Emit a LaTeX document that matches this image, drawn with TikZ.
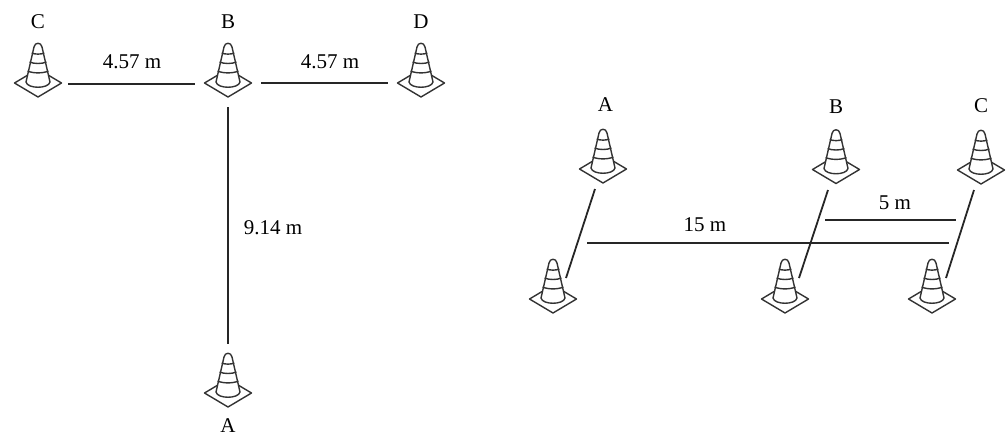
\documentclass[tikz,border=0pt]{standalone}
\usepackage{fontspec}
\setmainfont{Liberation Serif}
\usepackage{tikz}

\tikzset{
  lbl/.style={inner sep=0pt,font=\fontsize{21}{23}\selectfont},
  gapline/.style={line width=1.8pt,draw=black!85},
  cone/.pic={
    \draw[line width=1.4pt,draw=black!80,line join=round]
      (-23.5,0) -- (0,14) -- (23.5,0) -- (0,-14) -- cycle;
    \draw[line width=1.4pt,draw=black!80,fill=white,line join=round]
      (-12,-1) -- (-4,-36)
      .. controls (-3.2,-41) and (3.2,-41) .. (4,-36)
      -- (12,-1)
      .. controls (10.5,6) and (-10.5,6) .. (-12,-1) -- cycle;
    \draw[line width=1.4pt,draw=black!80]
      (-6.3,-30) .. controls (-3,-28.5) and (3,-28.5) .. (6.3,-30);
    \draw[line width=1.4pt,draw=black!80]
      (-8.4,-21) .. controls (-4,-19) and (4,-19) .. (8.4,-21);
    \draw[line width=1.4pt,draw=black!80]
      (-10.4,-12) .. controls (-5,-9.5) and (5,-9.5) .. (10.4,-12);
  }
}

\begin{document}
\begin{tikzpicture}[x=1pt,y=-1pt]
\useasboundingbox (0,0) rectangle (1006,437);
% left layout
\pic at (38,83) {cone};
\pic at (228,83) {cone};
\pic at (421,83) {cone};
\pic at (228,393) {cone};
\node[lbl] (lblC) at (38,22) {C};
\node[lbl] (lblB) at (228,22) {B};
\node[lbl] (lblD) at (421,22) {D};
\node[lbl] (lblA) at (228,426) {A};
\coordinate (c1) at (68,84);
\coordinate (c2) at (195,84);
\coordinate (c3) at (261,83);
\coordinate (c4) at (388,83);
\coordinate (c5) at (228,107);
\coordinate (c6) at (228,344);
\draw[gapline] (c1) -- (c2);
\draw[gapline] (c3) -- (c4);
\draw[gapline] (c5) -- (c6);
\node[lbl] (lenCB) at (132,62) {4.57 m};
\node[lbl] (lenBD) at (330,62) {4.57 m};
\node[lbl] (lenBA) at (273,228) {9.14 m};
% right layout
\pic at (603,169) {cone};
\pic at (836,169.5) {cone};
\pic at (981,170) {cone};
\pic at (553,299) {cone};
\pic at (785,299) {cone};
\pic at (932,299) {cone};
\node[lbl] (lblA2) at (605.5,105) {A};
\node[lbl] (lblB2) at (836,107) {B};
\node[lbl] (lblC2) at (981,106) {C};
\coordinate (d1) at (595,189);
\coordinate (d2) at (566,278);
\coordinate (d3) at (828,190);
\coordinate (d4) at (799,278);
\coordinate (d5) at (974,190);
\coordinate (d6) at (946,278);
\coordinate (d7) at (587,243);
\coordinate (d8) at (949,243);
\coordinate (d9) at (825,220);
\coordinate (d10) at (956,220);
\draw[gapline] (d1) -- (d2);
\draw[gapline] (d3) -- (d4);
\draw[gapline] (d5) -- (d6);
\draw[gapline] (d7) -- (d8);
\draw[gapline] (d9) -- (d10);
\node[lbl] (len15) at (705,225) {15 m};
\node[lbl] (len5) at (895,203) {5 m};
\end{tikzpicture}
\end{document}
